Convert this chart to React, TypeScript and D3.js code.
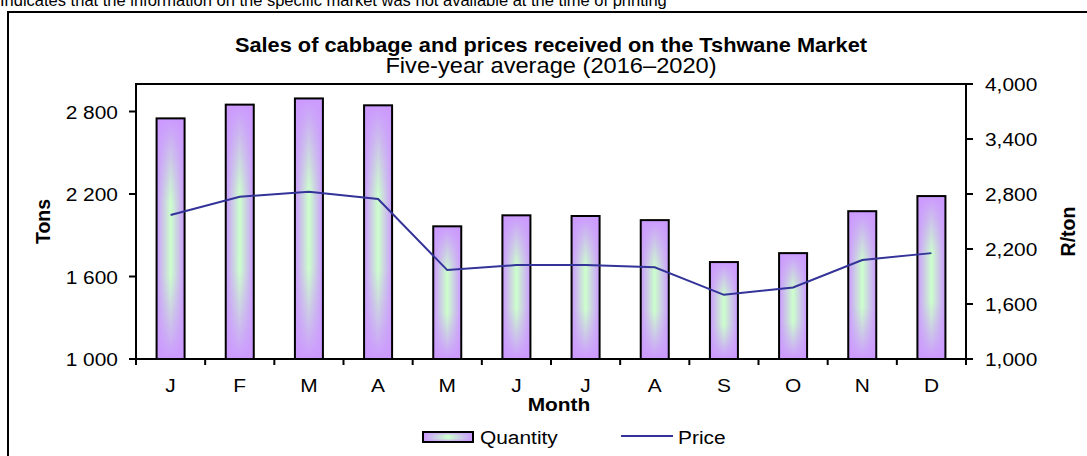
import * as d3 from "d3";
import React, { useEffect, useRef } from "react";

// chart data
const months = ["J", "F", "M", "A", "M", "J", "J", "A", "S", "O", "N", "D"];
const quantity = [2750, 2850, 2895, 2845, 1965, 2045, 2040, 2010, 1705, 1770, 2075, 2185];
const price = [2570, 2770, 2825, 2745, 1970, 2025, 2025, 2000, 1700, 1780, 2080, 2155];
const tonTicks = [1000, 1600, 2200, 2800];
const priceTicks = [1000, 1600, 2200, 2800, 3400, 4000];

const W = 1087;
const H = 456;
const FONT = "'Liberation Sans', Arial, sans-serif";
const SX = 1.1; // the source picture is a bit wide

export default function App() {
  const svgRef = useRef<SVGSVGElement>(null);

  useEffect(() => {
    const svg = d3.select(svgRef.current);
    svg.selectAll("*").remove();

    const plot = { left: 136, right: 966, top: 84, bottom: 359 };

    const x = d3.scaleBand<number>()
      .domain(d3.range(months.length))
      .range([plot.left, plot.right])
      .padding(0);
    const yL = d3.scaleLinear().domain([1000, 3000]).range([plot.bottom, plot.top]);
    const yR = d3.scaleLinear().domain([1000, 4000]).range([plot.bottom, plot.top]);
    const barW = x.bandwidth() * 0.405;

    // text helper, stretched a little sideways
    const label = (tx: number, ty: number, s: string, size: number, anchor = "start", bold = false) =>
      svg.append("text")
        .attr("transform", `translate(${tx},${ty}) scale(${SX},1)`)
        .attr("text-anchor", anchor)
        .attr("font-size", size)
        .attr("font-weight", bold ? "bold" : "normal")
        .attr("font-family", FONT)
        .attr("fill", "#000")
        .text(s);

    // gradients for the bars (green middle, purple edges)
    const defs = svg.append("defs");
    const hg = defs.append("linearGradient").attr("id", "hgrad")
      .attr("x1", 0).attr("x2", 1).attr("y1", 0).attr("y2", 0);
    hg.append("stop").attr("offset", "0%").attr("stop-color", "#cc99ff");
    hg.append("stop").attr("offset", "50%").attr("stop-color", "#ccffcc");
    hg.append("stop").attr("offset", "100%").attr("stop-color", "#cc99ff");
    const vg = defs.append("linearGradient").attr("id", "vgrad")
      .attr("x1", 0).attr("x2", 0).attr("y1", 0).attr("y2", 1);
    vg.append("stop").attr("offset", "0%").attr("stop-color", "#cc99ff").attr("stop-opacity", 1);
    vg.append("stop").attr("offset", "35%").attr("stop-color", "#cc99ff").attr("stop-opacity", 0);
    vg.append("stop").attr("offset", "65%").attr("stop-color", "#cc99ff").attr("stop-opacity", 0);
    vg.append("stop").attr("offset", "100%").attr("stop-color", "#cc99ff").attr("stop-opacity", 1);

    // outer frame (only left and top visible)
    svg.append("path")
      .attr("d", `M8,${H} L8,12 L${W},12`)
      .attr("fill", "none").attr("stroke", "#000").attr("stroke-width", 2);

    svg.append("text")
      .attr("x", 0).attr("y", 6)
      .attr("font-size", 16.5).attr("font-family", FONT)
      .text("Indicates that the information on the specific market was not available at the time of printing");

    // titles
    const cx = (plot.left + plot.right) / 2;
    label(cx, 52, "Sales of cabbage and prices received on the Tshwane Market", 19.8, "middle", true);
    label(cx, 73, "Five-year average (2016–2020)", 21.5, "middle");

    // bars
    const bars = svg.append("g");
    quantity.forEach((v, i) => {
      const bx = x(i)! + (x.bandwidth() - barW) / 2;
      const by = yL(v);
      const bh = yL(1000) - yL(v);
      bars.append("rect").attr("x", bx).attr("y", by).attr("width", barW).attr("height", bh)
        .attr("fill", "url(#hgrad)");
      bars.append("rect").attr("x", bx).attr("y", by).attr("width", barW).attr("height", bh)
        .attr("fill", "url(#vgrad)").attr("stroke", "#000").attr("stroke-width", 2);
    });

    // price line
    const line = d3.line<number>()
      .x((d, i) => x(i)! + x.bandwidth() / 2)
      .y(d => yR(d));
    svg.append("path").datum(price)
      .attr("d", line)
      .attr("fill", "none").attr("stroke", "#333399").attr("stroke-width", 2);

    // plot frame
    svg.append("rect")
      .attr("x", plot.left).attr("y", plot.top)
      .attr("width", plot.right - plot.left).attr("height", plot.bottom - plot.top)
      .attr("fill", "none").attr("stroke", "#000").attr("stroke-width", 2);

    // left axis
    const fmtSpace = (v: number) => d3.format(",")(v).replace(",", " ");
    tonTicks.forEach(t => {
      svg.append("line").attr("x1", plot.left - 7).attr("x2", plot.left)
        .attr("y1", yL(t)).attr("y2", yL(t)).attr("stroke", "#000").attr("stroke-width", 2);
      label(118, yL(t) + 7, fmtSpace(t), 19, "end");
    });

    // right axis
    priceTicks.forEach(t => {
      svg.append("line").attr("x1", plot.right).attr("x2", plot.right + 7)
        .attr("y1", yR(t)).attr("y2", yR(t)).attr("stroke", "#000").attr("stroke-width", 2);
      label(985, yR(t) + 7, d3.format(",")(t), 19, "start");
    });

    // x axis: ticks between categories
    d3.range(months.length + 1).forEach(i => {
      const tx = i < months.length ? x(i)! : plot.right;
      svg.append("line").attr("x1", tx).attr("x2", tx).attr("y1", plot.bottom).attr("y2", plot.bottom + 6)
        .attr("stroke", "#000").attr("stroke-width", 2);
    });
    months.forEach((m, i) => {
      label(x(i)! + x.bandwidth() / 2, 392, m, 19, "middle");
    });

    // axis titles
    label(cx + 8, 411, "Month", 19, "middle", true);
    svg.append("text")
      .attr("transform", `translate(50,${(plot.top + plot.bottom) / 2}) rotate(-90)`)
      .attr("text-anchor", "middle")
      .attr("font-size", 19.5).attr("font-weight", "bold").attr("font-family", FONT)
      .text("Tons");
    svg.append("text")
      .attr("transform", `translate(1075,${(plot.top + plot.bottom) / 2 + 10}) rotate(-90)`)
      .attr("text-anchor", "middle")
      .attr("font-size", 19.5).attr("font-weight", "bold").attr("font-family", FONT)
      .text("R/ton");

    // legend
    svg.append("rect").attr("x", 423).attr("y", 432).attr("width", 50).attr("height", 10)
      .attr("fill", "url(#hgrad)");
    svg.append("rect").attr("x", 423).attr("y", 432).attr("width", 50).attr("height", 10)
      .attr("fill", "url(#vgrad)").attr("stroke", "#000").attr("stroke-width", 2);
    label(480, 444, "Quantity", 19, "start");
    svg.append("line").attr("x1", 621).attr("x2", 673).attr("y1", 436).attr("y2", 436)
      .attr("stroke", "#333399").attr("stroke-width", 2);
    label(678, 444, "Price", 19, "start");
  }, []);

  return (
    <svg ref={svgRef} width={W} height={H}
      style={{ position: "absolute", left: 0, top: 0, background: "#fff" }} />
  );
}
